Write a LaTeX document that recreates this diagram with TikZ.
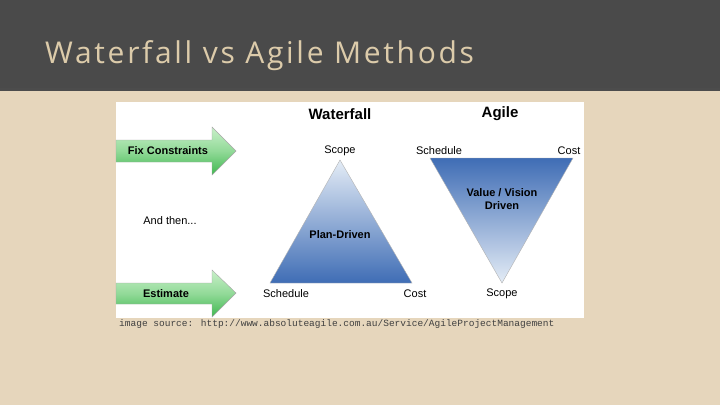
\documentclass[tikz,border=0pt]{standalone}
\usepackage{fontspec}
\setmainfont{Liberation Sans}
\newfontfamily\titlefont[LetterSpace=9]{Open Sans}
\newfontfamily\monofont{Liberation Mono}
\definecolor{bg}{HTML}{E6D6BC}
\definecolor{hdr}{HTML}{4A4A4A}
\definecolor{ttl}{HTML}{DCCBAA}
\definecolor{tblue}{HTML}{3F6DB5}
\definecolor{tlight}{HTML}{E4ECF6}
\definecolor{gdark}{HTML}{3FB84F}
\definecolor{glight}{HTML}{C9F0C9}
\begin{document}
\begin{tikzpicture}[x=1pt,y=-1pt,
  lbl/.style={font=\fontsize{11}{13}\selectfont,inner sep=0pt},
  blbl/.style={font=\bfseries\fontsize{11}{13}\selectfont,inner sep=0pt},
  hd/.style={font=\bfseries\fontsize{15}{17}\selectfont,inner sep=0pt},
  arr/.style={draw=gray!70,top color=glight,bottom color=gdark,middle color=glight!60!gdark}]
\useasboundingbox (0,0) rectangle (720,405);
\fill[bg] (0,0) rectangle (720,405);
\fill[hdr] (0,0) rectangle (720,88);
\fill[black!70] (0,88) rectangle (720,91);
\node[anchor=west,text=ttl,inner sep=0pt,font=\titlefont\fontsize{30}{34}\selectfont] (title) at (45,56) {Waterfall vs Agile Methods};
\fill[white] (116,102) rectangle (584,318);
% arrows
\path[arr] (116,140) -- (212,140) -- (212,127) -- (236,151) -- (212,175) -- (212,162) -- (116,162) -- cycle;
\path[arr] (116,283) -- (212,283) -- (212,270) -- (236,293) -- (212,317) -- (212,304) -- (116,304) -- cycle;
\node[blbl] (fc) at (168,151) {Fix Constraints};
\node[blbl] (es) at (166,294) {Estimate};
\node[lbl] (then) at (170,221) {And then...};
% triangles
\shade[top color=tlight,bottom color=tblue,draw=gray!60] (340,160) -- (412,283) -- (270,283) -- cycle;
\shade[top color=tblue,bottom color=tlight,draw=gray!60] (430,158) -- (573,158) -- (502,283) -- cycle;
\node[hd] (wf) at (340,114) {Waterfall};
\node[hd] (ag) at (500,114) {Agile};
\node[lbl] (s1) at (340,151) {Scope};
\node[lbl] (sc2) at (439,151) {Schedule};
\node[lbl] (c2) at (569,151) {Cost};
\node[blbl] (pd) at (340,235) {Plan-Driven};
\node[blbl,align=center] (vv) at (502,199) {Value / Vision\\Driven};
\node[lbl] (sc1) at (286,294) {Schedule};
\node[lbl] (c1) at (415,294) {Cost};
\node[lbl] (s2) at (502,294) {Scope};
\node[anchor=west,inner sep=0pt,text=black!75,font=\monofont\fontsize{9.5}{11}\selectfont] (src) at (119,324) {image source: http://www.absoluteagile.com.au/Service/AgileProjectManagement};
\end{tikzpicture}
\end{document}
